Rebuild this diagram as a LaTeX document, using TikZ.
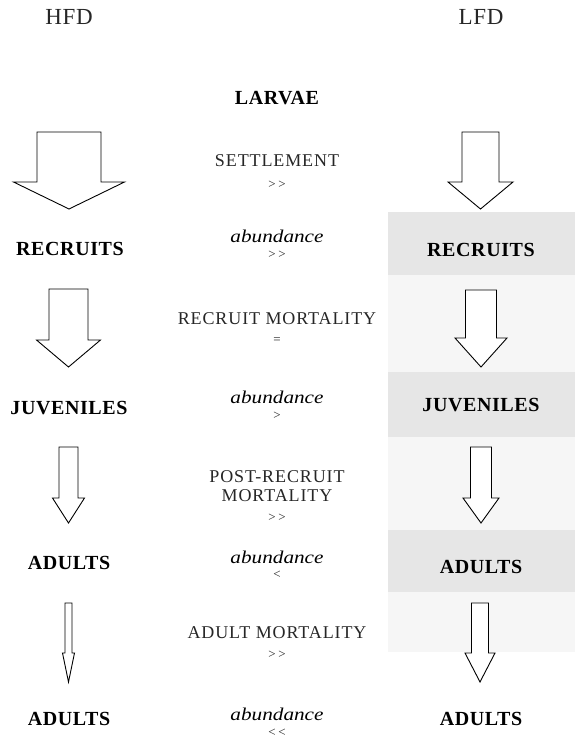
\documentclass[tikz,border=0pt]{standalone}
\usepackage{fontspec}
\setmainfont{Liberation Serif}
\newfontfamily\headfont{Liberation Serif}[LetterSpace=3]
\newfontfamily\procfont{Liberation Serif}[LetterSpace=5]
\newfontfamily\abundfont{Liberation Serif}[FakeStretch=1.18]
\usetikzlibrary{positioning}
\definecolor{speckle}{HTML}{F6F6F6}
\definecolor{speckledark}{HTML}{E6E6E6}
\tikzset{
  stage/.style={font=\fontsize{20}{22}\selectfont\bfseries\addfontfeatures{LetterSpace=3}, inner sep=0pt},
  header/.style={font=\fontsize{23}{25}\selectfont\headfont, inner sep=0pt, text=black!85},
  process/.style={font=\fontsize{18}{19}\selectfont\procfont, inner sep=0pt, align=center, text=black!85},
  abund/.style={font=\fontsize{18}{20}\selectfont\abundfont\itshape, inner sep=0pt},
  rel/.style={font=\fontsize{13}{15}\selectfont, inner sep=0pt, text=black!85},
  blockarrow/.style={draw=black, line width=0.9pt, fill=white, line join=miter},
}
% x, top, head base, tip, shaft half width, head half width
\newcommand{\fatdown}[6]{%
  \draw[blockarrow] (#1-#5,#2) -- (#1+#5,#2) -- (#1+#5,#3) -- (#1+#6,#3)
    -- (#1,#4) -- (#1-#6,#3) -- (#1-#5,#3) -- cycle;}
\newcommand{\muchmore}{>\kern2.5pt>}
\newcommand{\muchless}{<\kern2.5pt<}

\begin{document}
\begin{tikzpicture}[x=1pt, y=-1pt]
\useasboundingbox (0,0) rectangle (575,741);

% speckled background of the LFD column
\fill[speckle] (388,212) rectangle (575,652);
\fill[speckledark] (388,212) rectangle (575,275);
\fill[speckledark] (388,372) rectangle (575,437);
\fill[speckledark] (388,530) rectangle (575,592);

\node[header] (hfd) at (69,17) {HFD};
\node[header] (lfd) at (481,17) {LFD};
\node[stage] (larvae) at (277,98) {LARVAE};

% HFD arrows
\fatdown{69}{132}{182}{209}{32}{55.5}
\fatdown{68.5}{289}{340}{367}{19.5}{32}
\fatdown{68.5}{447}{498}{523}{9.5}{16}
\fatdown{68.5}{603}{653}{682}{3.5}{6}
% LFD arrows
\fatdown{480.5}{132}{182}{209}{18.5}{32.5}
\fatdown{481}{290}{338}{367}{15.5}{26}
\fatdown{481}{447}{498}{523}{10.5}{18}
\fatdown{480}{603}{653}{682}{8.5}{15}

\node[process] (settle) at (277,161) {SETTLEMENT};
\node[rel] (settleRel) at (277,184.5) {\muchmore};
\node[stage] (recL) at (70,248.5) {RECRUITS};
\node[stage] (recR) at (481,250) {RECRUITS};
\node[abund] (abRec) at (277,236.5) {abundance};
\node[rel] (abRecRel) at (277,255) {\muchmore};

\node[process] (recMort) at (277,319) {RECRUIT MORTALITY};
\node[rel] (recMortRel) at (277,340.5) {=};
\node[stage] (juvL) at (69,408) {JUVENILES};
\node[stage] (juvR) at (481,405) {JUVENILES};
\node[abund] (abJuv) at (277,397) {abundance};
\node[rel] (abJuvRel) at (277,416) {>};

\node[process] (postMort) at (277,486) {POST-RECRUIT\\MORTALITY};
\node[rel] (postMortRel) at (277,518) {\muchmore};
\node[stage] (adL) at (69,563) {ADULTS};
\node[stage] (adR) at (481,567) {ADULTS};
\node[abund] (abAd) at (277,557) {abundance};
\node[rel] (abAdRel) at (277,575) {<};

\node[process] (adMort) at (277,633) {ADULT MORTALITY};
\node[rel] (adMortRel) at (277,655) {\muchmore};
\node[stage] (adL2) at (69,719) {ADULTS};
\node[stage] (adR2) at (481,719) {ADULTS};
\node[abund] (abAd2) at (277,714) {abundance};
\node[rel] (abAd2Rel) at (277,733) {\muchless};
\end{tikzpicture}
\end{document}
